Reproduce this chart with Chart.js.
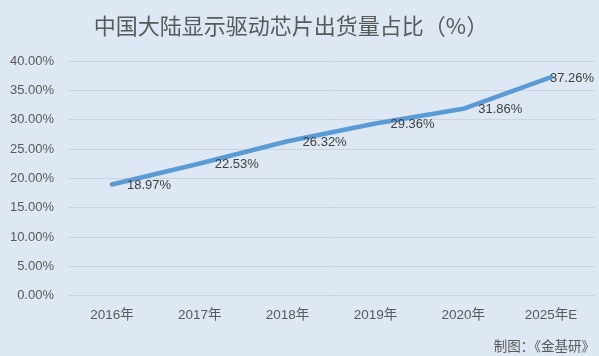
<!DOCTYPE html>
<html><head><meta charset="utf-8">
<script src="https://cdn.jsdelivr.net/npm/chart.js@4/dist/chart.umd.min.js"></script>
<style>html,body{margin:0;padding:0;background:#dde8f4;}#wrap{width:599px;height:356px;}</style>
</head><body><div id="wrap"><canvas id="c" width="599" height="356"></canvas></div>
<script>
const categories = ['2016年','2017年','2018年','2019年','2020年','2025年E'];
const shareValues = [18.97, 22.53, 26.32, 29.36, 31.86, 37.26];
const titleText = '中国大陆显示驱动芯片出货量占比（%）';
const sourceText = '制图：《金基研》';
const FONT = '"Liberation Sans", "Noto Sans CJK SC", sans-serif';

const bgPlugin = {
  id: 'bg',
  beforeDraw(chart) {
    const ctx = chart.ctx;
    ctx.save(); ctx.fillStyle = '#dde8f4';
    ctx.fillRect(0, 0, chart.width, chart.height); ctx.restore();
  }
};
const textPlugin = {
  id: 'texts',
  afterDatasetsDraw(chart) {
    const ctx = chart.ctx;
    const meta = chart.getDatasetMeta(0);
    ctx.save();
    // title
    ctx.font = '22px "Noto Sans CJK SC", sans-serif';
    ctx.fillStyle = '#595959';
    ctx.textBaseline = 'middle';
    ctx.textAlign = 'center';
    ctx.fillText(titleText, 291, 26);
    // value labels
    ctx.font = '13px ' + FONT;
    ctx.fillStyle = '#404040';
    ctx.textAlign = 'left';
    meta.data.forEach((pt, i) => {
      const txt = shareValues[i].toFixed(2) + '%';
      const w = ctx.measureText(txt).width;
      let x = pt.x + 15;
      if (x + w > chart.width - 5) x = chart.width - 5 - w;
      ctx.fillText(txt, x, pt.y + 1);
    });
    // source
    ctx.font = '13.5px "Noto Sans CJK SC", sans-serif';
    ctx.fillStyle = '#595959';
    ctx.textAlign = 'right';
    ctx.fillText(sourceText, 595, 346);
    ctx.restore();
  }
};

new Chart(document.getElementById('c'), {
  type: 'line',
  data: {
    labels: categories,
    datasets: [{
      data: shareValues,
      borderColor: '#5b9bd5',
      borderWidth: 4.5,
      borderCapStyle: 'round',
      borderJoinStyle: 'round',
      pointRadius: 0,
      tension: 0,
      fill: false
    }]
  },
  options: {
    responsive: false,
    animation: false,
    layout: { padding: { left: 0, right: 4, top: 61, bottom: 22 } },
    plugins: {
      legend: { display: false },
      tooltip: { enabled: false },
      title: { display: false }
    },
    scales: {
      x: {
        offset: true,
        grid: { display: false, drawTicks: false },
        border: { display: false },
        ticks: { color: '#595959', font: { family: FONT, size: 13.5 }, padding: 11, maxRotation: 0 }
      },
      y: {
        min: 0, max: 40,
        afterFit(scale) { scale.width = 68; },
        grid: { color: '#cdd4dc', lineWidth: 1, drawTicks: false },
        border: { display: false },
        ticks: {
          stepSize: 5,
          color: '#595959',
          font: { family: FONT, size: 13 },
          padding: 14,
          callback: v => Number(v).toFixed(2) + '%'
        }
      }
    }
  },
  plugins: [bgPlugin, textPlugin]
});
</script>
</body></html>
